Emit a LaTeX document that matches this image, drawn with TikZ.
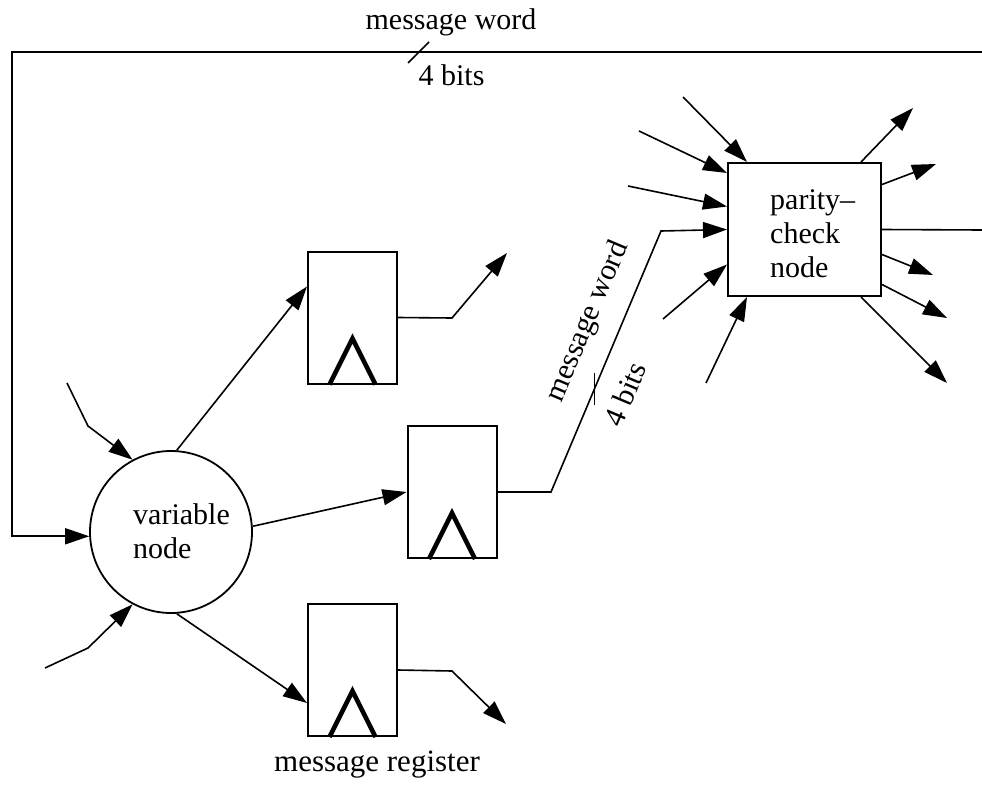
\documentclass[tikz,border=0pt]{standalone}
\usepackage{fontspec}
\setmainfont{Liberation Serif}
\usetikzlibrary{arrows.meta}

\begin{document}
\begin{tikzpicture}[x=1pt,y=-1pt,
  every node/.style={font=\fontsize{30}{34}\selectfont},
  wire/.style={line width=1.6pt},
  arr/.style={wire,-{Triangle[length=24pt,width=16pt]}},
  regbox/.style={draw,line width=2pt,minimum width=89pt,minimum height=132pt,inner sep=0pt},
  varnode/.style={draw,circle,line width=1.8pt,minimum size=162pt,inner sep=0pt},
  checkbox/.style={draw,line width=2pt,minimum width=153pt,minimum height=133pt,inner sep=0pt},
  clock/.style={line width=4.5pt,line join=miter},
  txt/.style={inner sep=0pt,align=left}]
\useasboundingbox (0,0) rectangle (982,784);

% main blocks
\node[varnode] (vn) at (171,532) {};
\node[txt,anchor=west] (vntext) at (133,531) {variable\\node};
\node[regbox] (r1) at (352.5,317.5) {};
\node[regbox] (r2) at (452,492) {};
\node[regbox] (r3) at (352.5,670) {};
\node[checkbox] (pc) at (804.5,229.5) {};
\node[txt,anchor=west] (pctext) at (770,234) {parity--\\check\\node};

% clock inputs of the registers
\foreach \r in {r1,r2,r3}{
  \draw[clock] ([xshift=-23pt]\r.south) -- ([yshift=46pt]\r.south) -- ([xshift=23pt]\r.south);
}

% free ends and bends
\coordinate (topR) at (982,52);
\coordinate (topL) at (12,52);
\coordinate (in1s) at (67,383);  \coordinate (in1b) at (88,426);
\coordinate (in2s) at (45,668);  \coordinate (in2b) at (88,648);
\coordinate (r1b) at (452,318);  \coordinate (r1e) at (507,253);
\coordinate (r2b) at (551,492);  \coordinate (r2c) at (661,231);
\coordinate (r3b) at (452,671);  \coordinate (r3e) at (506,724);
\coordinate (p1) at (683,97);
\coordinate (p2) at (639,131);
\coordinate (p3) at (628,186);
\coordinate (p4) at (663,319);
\coordinate (p5) at (706,383);
\coordinate (q1) at (913,108);
\coordinate (q2) at (936,164);
\coordinate (q3) at (982,230);
\coordinate (q4) at (933,275);
\coordinate (q5) at (947,318);
\coordinate (q6) at (947,383);

% feedback word into the variable node
\draw[arr] (topR) -- (topL) |- (vn.183);
\coordinate (tick1) at (418.5,52.5);
\draw[wire] ([shift={(-10.5,10.5)}]tick1) -- ([shift={(10.5,-10.5)}]tick1);
\node[inner sep=0pt,anchor=base] (lbltop) at (451,30) {message word};
\node[inner sep=0pt,anchor=base] (bitstop) at (451.5,85) {4 bits};

% other inputs of the variable node
\draw[arr] (in1s) -- (in1b) -- (vn.118);
\draw[arr] (in2s) -- (in2b) -- (vn.242);

% variable node to registers
\draw[arr] (vn.86) -- ([yshift=31pt]r1.west);
\draw[arr] (vn.4) -- (r2.west);
\draw[arr] (vn.274) -- ([yshift=-33pt]r3.west);

% register outputs
\draw[arr] (r1.east) -- (r1b) -- (r1e);
\draw[arr] (r3.east) -- (r3b) -- (r3e);
\draw[arr] (r2.east) -- (r2b) -- (r2c) -- (pc.west);
\coordinate (tick2) at (594.5,389);
\draw[wire] ([yshift=16pt]tick2) -- ([yshift=-16pt]tick2);
\node[inner sep=0pt,rotate=67.1] (lblslant) at (588,322) {message word};
\node[inner sep=0pt,rotate=67.1] (bitsslant) at (625,394) {4 bits};

% check node inputs
\draw[arr] (p1) -- ([xshift=20pt]pc.north west);
\draw[arr] (p2) -- ([yshift=-11pt]pc.north west);
\draw[arr] (p3) -- ([yshift=23pt]pc.west);
\draw[arr] (p4) -- ([yshift=-35pt]pc.west);
\draw[arr] (p5) -- ([xshift=20pt]pc.south west);

% check node outputs
\draw[arr] ([xshift=-21pt]pc.north east) -- (q1);
\draw[arr] ([yshift=45pt]pc.east) -- (q2);
\draw[wire] (pc.east) -- (q3);
\draw[arr] ([yshift=-25pt]pc.east) -- (q4);
\draw[arr] ([yshift=-55pt]pc.east) -- (q5);
\draw[arr] ([xshift=-21pt]pc.south east) -- (q6);

\node[inner sep=0pt,anchor=base,font=\fontsize{31}{34}\selectfont] (regname) at (377,771) {message register};
\end{tikzpicture}
\end{document}
